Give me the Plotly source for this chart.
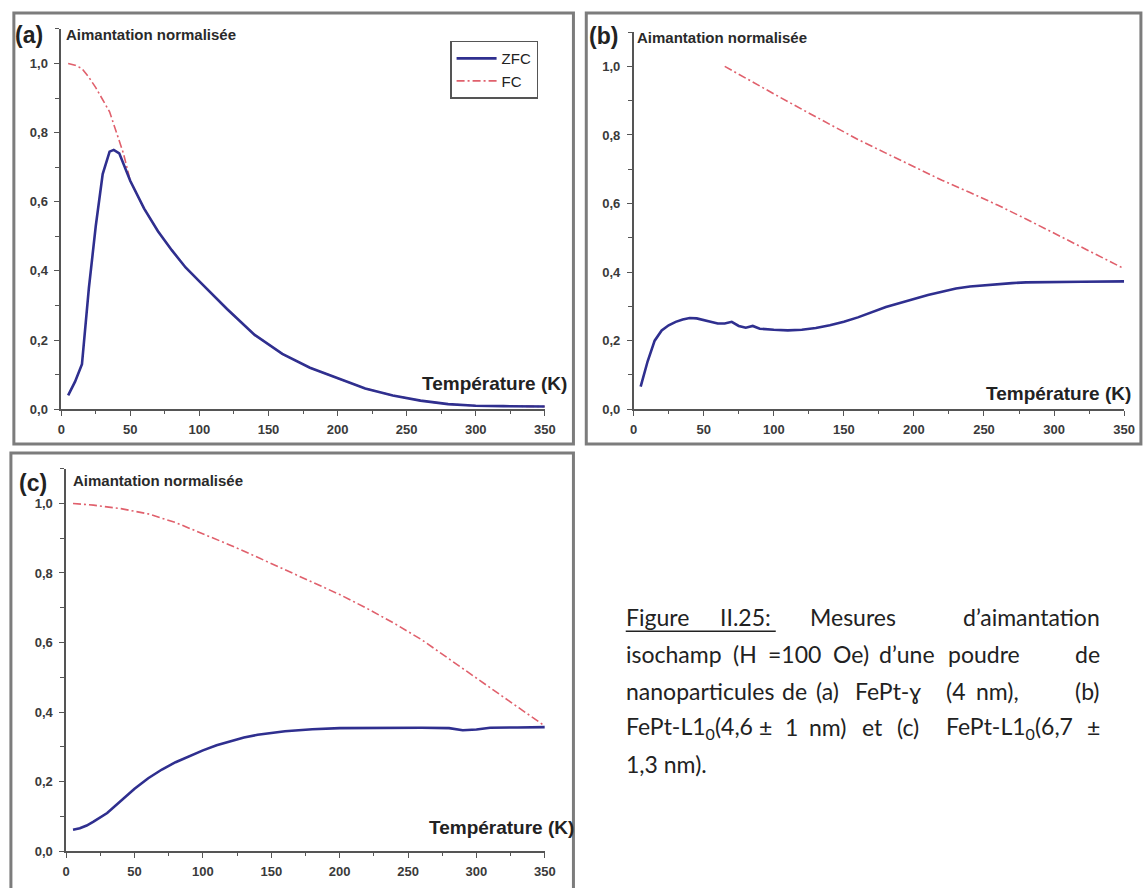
import plotly.graph_objects as go

W, H = 1145, 888

# ---------------- data ----------------
# Panel (a): FePt-gamma (4 nm)
T_a_zfc = [5, 10, 15, 20, 25, 30, 35, 38, 42, 45, 50, 60, 70, 80, 90, 100, 120, 140, 160, 180,
           200, 220, 240, 260, 280, 300, 320, 350]
M_a_zfc = [0.04, 0.08, 0.13, 0.35, 0.53, 0.68, 0.745, 0.75, 0.74, 0.71, 0.66, 0.58, 0.515, 0.46,
           0.41, 0.37, 0.29, 0.215, 0.16, 0.12, 0.09, 0.06, 0.04, 0.025, 0.015, 0.01, 0.009, 0.008]
T_a_fc = [5, 10, 15, 20, 25, 30, 35, 40, 45, 50, 60, 70, 80, 90, 100, 120, 140, 160, 180,
          200, 220, 240, 260, 280, 300, 320, 350]
M_a_fc = [1.0, 0.995, 0.985, 0.96, 0.93, 0.895, 0.86, 0.80, 0.74, 0.66, 0.58, 0.515, 0.46,
          0.41, 0.37, 0.29, 0.215, 0.16, 0.12, 0.09, 0.06, 0.04, 0.025, 0.015, 0.01, 0.009, 0.008]

# Panel (b): FePt-L1_0 (4,6 nm)
T_b_zfc = [5, 10, 15, 20, 25, 30, 35, 40, 45, 50, 55, 60, 65, 70, 75, 80, 85, 90, 100, 110, 120,
           130, 140, 150, 160, 170, 180, 190, 200, 210, 220, 230, 240, 250, 260, 270, 280, 300,
           320, 350]
M_b_zfc = [0.066, 0.14, 0.20, 0.23, 0.245, 0.255, 0.262, 0.266, 0.265, 0.26, 0.256, 0.25, 0.25,
           0.255, 0.243, 0.238, 0.243, 0.235, 0.232, 0.23, 0.232, 0.237, 0.245, 0.255, 0.268,
           0.283, 0.298, 0.31, 0.322, 0.333, 0.343, 0.352, 0.358, 0.362, 0.365, 0.368, 0.37,
           0.372, 0.372, 0.373]
T_b_fc = [65, 80, 100, 120, 140, 160, 180, 200, 220, 240, 260, 280, 300, 320, 340, 350]
M_b_fc = [1.0, 0.965, 0.92, 0.875, 0.83, 0.787, 0.747, 0.708, 0.668, 0.632, 0.595, 0.555,
          0.513, 0.472, 0.43, 0.41]

# Panel (c): FePt-L1_0 (6,7 nm)
T_c_zfc = [5, 10, 15, 20, 30, 40, 50, 60, 70, 80, 90, 100, 110, 120, 130, 140, 150, 160, 170,
           180, 200, 220, 240, 260, 280, 290, 300, 310, 330, 350]
M_c_zfc = [0.062, 0.066, 0.074, 0.085, 0.11, 0.145, 0.18, 0.21, 0.235, 0.256, 0.274, 0.29,
           0.305, 0.317, 0.327, 0.335, 0.341, 0.345, 0.348, 0.351, 0.354, 0.355, 0.355, 0.355,
           0.354, 0.348, 0.35, 0.355, 0.356, 0.357]
T_c_fc = [5, 20, 40, 60, 80, 100, 120, 140, 160, 180, 200, 220, 240, 260, 280, 300, 320, 340, 350]
M_c_fc = [1.0, 0.995, 0.985, 0.97, 0.945, 0.913, 0.88, 0.845, 0.81, 0.775, 0.738, 0.698, 0.655,
          0.608, 0.553, 0.5, 0.445, 0.39, 0.36]

x_ticks = [0, 50, 100, 150, 200, 250, 300, 350]
y_ticks = [0.0, 0.2, 0.4, 0.6, 0.8, 1.0]
series_names = ["ZFC", "FC"]
y_title = "Aimantation normalisée"
x_title = "Température (K)"
panel_labels = ["(a)", "(b)", "(c)"]

# ---------------- styling ----------------
ZFC_COLOR = "#2f2f8f"
FC_COLOR = "#e0606c"
AX_COLOR = "#555555"
FRAME = "#7c7c7c"
BOLD = "Liberation Sans"


def px(x):
    return x / W


def py(y):
    return 1 - y / H


fig = go.Figure()

panels = [
    (T_a_zfc, M_a_zfc, T_a_fc, M_a_fc, "x", "y"),
    (T_b_zfc, M_b_zfc, T_b_fc, M_b_fc, "x2", "y2"),
    (T_c_zfc, M_c_zfc, T_c_fc, M_c_fc, "x3", "y3"),
]
for i, (tz, mz, tf, mf, xa, ya) in enumerate(panels):
    fig.add_trace(go.Scatter(x=tf, y=mf, mode="lines", name=series_names[1], xaxis=xa, yaxis=ya,
                             line=dict(color=FC_COLOR, width=1.6, dash="8px,3px,2px,3px"),
                             showlegend=(i == 0), legendrank=2))
    fig.add_trace(go.Scatter(x=tz, y=mz, mode="lines", name=series_names[0], xaxis=xa, yaxis=ya,
                             line=dict(color=ZFC_COLOR, width=2.6),
                             showlegend=(i == 0), legendrank=1))

# axis geometry in pixels: (x_left, x_right, y_bottom, px_per_unit)
geo = [(58, 548, 413, 349), (638, 1135, 413, 346), (63, 548, 859, 351)]
YMAX = 1.1001

tickfont = dict(family=BOLD, size=13, color="#3a3a3a", weight="bold")
layout_axes = {}
for i, (xl, xr, yb, ppu) in enumerate(geo):
    sfx = "" if i == 0 else str(i + 1)
    ytop = yb - YMAX * ppu
    layout_axes["xaxis" + sfx] = dict(
        domain=[px(xl), px(xr)], range=[0, 350], anchor="y" + sfx,
        tickvals=x_ticks, ticks="outside", ticklen=5, tickwidth=1.2, tickcolor=AX_COLOR,
        showline=True, linecolor=AX_COLOR, linewidth=1.5, showgrid=False, zeroline=False,
        tickfont=tickfont, ticklabelstandoff=2,
        minor=dict(dtick=25, tick0=0, ticks="outside", ticklen=3, tickcolor=AX_COLOR, showgrid=False),
    )
    layout_axes["yaxis" + sfx] = dict(
        domain=[py(yb), py(ytop)], range=[0, YMAX], anchor="x" + sfx,
        tickvals=y_ticks, tickformat=".1f", ticks="outside", ticklen=5, tickwidth=1.2,
        tickcolor=AX_COLOR, showline=True, linecolor=AX_COLOR, linewidth=1.5, showgrid=False,
        zeroline=False, tickfont=tickfont, ticklabelstandoff=4,
        minor=dict(dtick=0.1, tick0=0, ticks="outside", ticklen=4, tickcolor=AX_COLOR, showgrid=False),
    )

# frames around panels
shapes = []
for (x0, y0, x1, y1) in [(10, 13, 577, 448), (590, 13, 1152, 448), (7, 457, 577, 900)]:
    shapes.append(dict(type="rect", xref="paper", yref="paper", x0=px(x0), x1=px(x1),
                       y0=py(y1), y1=py(y0), line=dict(color=FRAME, width=3)))

annotations = []
# panel labels & axis titles
lab_pos = [(9, 35), (591, 36), (13, 487)]
ytitle_pos = [(61, 35), (639, 38), (68, 485)]
xtitle_pos = [(573, 387), (1144, 397), (580, 835)]
for i in range(3):
    annotations.append(dict(text=panel_labels[i], x=px(lab_pos[i][0]), y=py(lab_pos[i][1]),
                            xref="paper", yref="paper", xanchor="left", yanchor="middle",
                            showarrow=False, font=dict(family=BOLD, size=23, color="#222", weight="bold")))
    annotations.append(dict(text=y_title, x=px(ytitle_pos[i][0]), y=py(ytitle_pos[i][1]),
                            xref="paper", yref="paper", xanchor="left", yanchor="middle",
                            showarrow=False, font=dict(family=BOLD, size=15, color="#2a2a2a", weight="bold")))
    annotations.append(dict(text=x_title, x=px(xtitle_pos[i][0]), y=py(xtitle_pos[i][1]),
                            xref="paper", yref="paper", xanchor="right", yanchor="middle",
                            showarrow=False, font=dict(family=BOLD, size=19, color="#222", weight="bold")))

# caption (justified, word by word)
CAP_FONT = dict(family="Lato, Carlito, Open Sans", size=23, color="#222")
caption_lines = [
    (623, [("Figure", 628, "left"), ("II.25:", 723, "left"), ("Mesures", 815, "left"),
           ("d’aimantation", 1113, "right")]),
    (660, [("isochamp", 628, "left"), ("(H", 737, "left"), ("=100", 772, "left"), ("Oe)", 838, "left"),
           ("d’une", 885, "left"), ("poudre", 955, "left"), ("de", 1113, "right")]),
    (697, [("nanoparticules", 628, "left"), ("de", 786, "left"), ("(a)", 821, "left"),
           ("FePt-ɣ", 860, "left"), ("(4", 952, "left"), ("nm),", 983, "left"), ("(b)", 1113, "right")]),
    (734, [("FePt-L1<sub>0</sub>(4,6", 628, "left"), ("±", 763, "left"), ("1", 789, "left"),
           ("nm)", 814, "left"), ("et", 867, "left"), ("(c)", 903, "left"),
           ("FePt-L1<sub>0</sub>(6,7", 952, "left"), ("±", 1113, "right")]),
    (771, [("1,3 nm).", 628, "left")]),
]
for yline, words in caption_lines:
    for w, xw, anc in words:
        annotations.append(dict(text=w, x=px(xw), y=py(yline), xref="paper", yref="paper",
                                xanchor=anc, yanchor="middle", showarrow=False, font=CAP_FONT))
# underline of "Figure II.25"
shapes.append(dict(type="line", xref="paper", yref="paper", x0=px(630), x1=px(782),
                   y0=py(637), y1=py(637), line=dict(color="#222", width=1.6)))

fig.update_layout(
    width=W, height=H, margin=dict(l=0, r=0, t=0, b=0),
    paper_bgcolor="white", plot_bgcolor="white", separators=",.",
    showlegend=True,
    legend=dict(x=px(452), y=py(41), xanchor="left", yanchor="top", bgcolor="white",
                bordercolor="#555", borderwidth=1.5, font=dict(family="Liberation Sans", size=15, color="#222"),
                tracegroupgap=0, itemwidth=40),
    shapes=shapes, annotations=annotations,
    **layout_axes,
)

fig.write_html("out.html", config={"displayModeBar": False},
               post_script="document.body.style.margin='0';document.body.style.overflow='hidden';")
